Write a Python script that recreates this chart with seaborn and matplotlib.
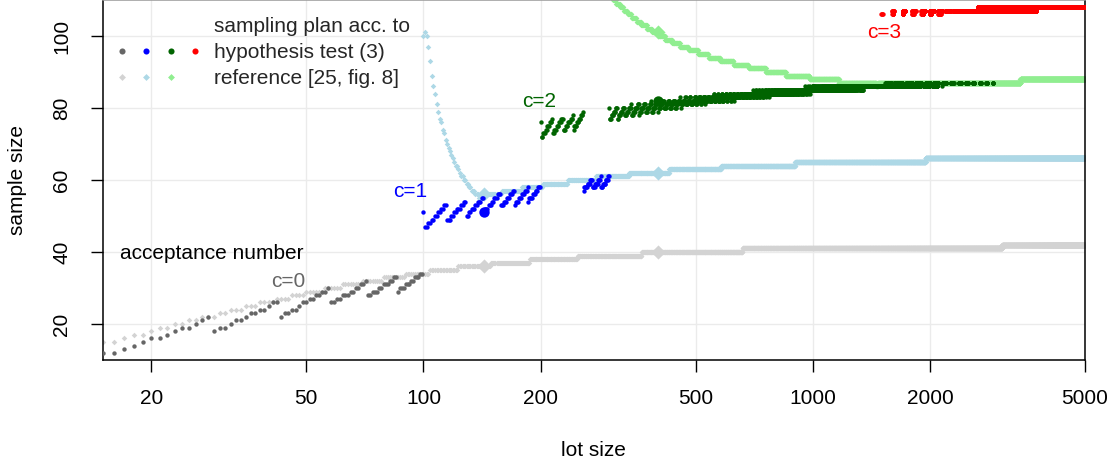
import matplotlib
matplotlib.use("Agg")
import matplotlib.pyplot as plt
import seaborn as sns
from matplotlib.lines import Line2D
from matplotlib.legend_handler import HandlerTuple

# ---------------- data (lot size N -> sample size n) ----------------
# Runs of constant sample size: a run starts at the given lot size and lasts
# until the next start - 1 (the last one until *_last). None = no plan shown.

# sampling plan acc. to hypothesis test (3), acceptance number c = 0
d0_start = [15, 17, 18, 19, 20, 22, 23, 24, 26, 27, 28, 29, 30, 32, 33, 35, 36, 38, 40, 41,
            43, 44, 46, 48, 49, 51, 53, 55, 57, 58, 60, 62, 65, 67, 69, 71, 72, 74, 77, 79,
            82, 84, 86, 87, 90, 93, 95, 98]
d0_n = [12, 13, 14, 15, 16, 17, 18, 19, 20, 21, 22, 18, 19, 20, 21, 22, 23, 24, 25, 26,
        22, 23, 24, 25, 26, 27, 28, 29, 30, 26, 27, 28, 29, 30, 31, 32, 28, 29, 30, 31,
        32, 33, 29, 30, 31, 32, 33, 34]
d0_last = 99

# c = 1
d1_start = [100, 101, 103, 105, 107, 109, 111, 113, 115, 118, 120, 122, 125, 127, 129, 131,
            133, 136, 138, 141, 143, 144, 147, 150, 152, 155, 158, 161, 164, 167, 170, 172,
            173, 176, 179, 182, 185, 186, 187, 191, 194, 197, 200, 258, 259, 264, 268, 272,
            276, 281, 285, 286, 289, 294, 298]
d1_n = [51, 47, 48, 49, 50, 51, 52, 53, 49, 50, 51, 52, 53, 54, 50, 51,
        52, 53, 54, 55, 51, 52, 53, 54, 55, 56, 53, 54, 55, 56, 57, 53,
        54, 55, 56, 57, 58, 54, 55, 56, 57, 58, None, 57, 58, 59, 60, 58,
        59, 60, 61, 58, 59, 60, 61]
d1_last = 299

# c = 2 (small lot sizes)
d2_start = [200, 201, 203, 206, 208, 211, 214, 215, 217, 220, 223, 226, 229, 232, 235, 239,
            242, 243, 244, 248, 251, 254, 257]
d2_n = [76, 72, 73, 74, 75, 76, 77, 73, 74, 75, 76, 77, 74, 75, 76, 77,
        78, 74, 75, 76, 77, 78, 79]
d2_last = 257

# c = 2 (large lot sizes): (first lot size, last lot size, sample size)
d2_runs = [
    (300, 300, 80), (301, 303, 77), (304, 307, 78), (308, 311, 79), (312, 314, 80), (315, 316, 77),
    (317, 320, 78), (321, 324, 79), (325, 328, 80), (329, 332, 78), (333, 336, 79), (337, 341, 80),
    (342, 342, 81), (343, 345, 78), (346, 349, 79), (350, 354, 80), (355, 357, 81), (358, 358, 78),
    (359, 362, 79), (363, 367, 80), (368, 371, 81), (372, 375, 79), (376, 380, 80), (381, 384, 81),
    (385, 385, 82), (386, 388, 79), (389, 393, 80), (394, 397, 81), (398, 400, 82), (401, 401, 79),
    (402, 406, 80), (407, 411, 81), (412, 414, 82), (415, 419, 80), (420, 424, 81), (425, 428, 82),
    (429, 432, 80), (433, 437, 81), (438, 442, 82), (443, 445, 80), (446, 450, 81), (451, 456, 82),
    (457, 457, 83), (458, 458, 80), (459, 463, 81), (464, 469, 82), (470, 471, 83), (472, 476, 81),
    (477, 482, 82), (483, 485, 83), (486, 490, 81), (491, 496, 82), (497, 500, 83), (501, 503, 81),
    (504, 509, 82), (510, 514, 83), (515, 516, 81), (517, 522, 82), (523, 528, 83), (529, 529, 81),
    (530, 536, 82), (537, 542, 83), (543, 549, 82), (550, 555, 83), (556, 557, 84), (558, 562, 82),
    (563, 569, 83), (570, 571, 84), (572, 576, 82), (577, 582, 83), (583, 585, 84), (586, 589, 82),
    (590, 596, 83), (597, 600, 84), (601, 602, 82), (603, 609, 83), (610, 614, 84), (615, 616, 82),
    (617, 637, 83), (624, 628, 84), (629, 629, 82), (638, 642, 84), (643, 650, 83), (651, 657, 84),
    (658, 664, 83), (665, 671, 84), (672, 677, 83), (678, 712, 84), (686, 691, 83), (700, 700, 85),
    (701, 704, 83), (713, 714, 85), (715, 718, 83), (719, 726, 84), (727, 728, 85), (729, 731, 83),
    (732, 808, 84), (741, 742, 85), (743, 745, 83), (754, 757, 85), (758, 758, 83), (768, 771, 85),
    (772, 772, 83), (782, 785, 85), (795, 800, 85), (809, 814, 85), (815, 822, 84), (823, 842, 85),
    (829, 835, 84), (843, 849, 84), (850, 857, 85), (858, 877, 84), (864, 871, 85), (878, 1274, 85),
    (886, 890, 84), (901, 904, 84), (915, 918, 84), (929, 931, 84), (943, 945, 84), (957, 957, 86),
    (958, 959, 84), (971, 971, 86), (972, 972, 84), (985, 985, 86), (986, 986, 84), (998, 1002, 86),
    (1012, 1014, 86), (1026, 1028, 86), (1040, 1042, 86), (1054, 1057, 86), (1068, 1071, 86),
    (1081, 1085, 86), (1095, 1695, 86), (1286, 1288, 85), (1301, 1302, 85), (1315, 1316, 85),
    (1329, 1343, 85), (1528, 1528, 87), (1542, 1557, 87), (1570, 1585, 87), (1598, 1599, 87),
    (1626, 1642, 87), (1654, 1699, 87), (1715, 1793, 86), (1738, 1799, 87), (1816, 1891, 86),
    (1838, 1899, 87), (1929, 1989, 86), (1948, 1999, 87), (2029, 2087, 86), (2049, 2099, 87),
    (2143, 2143, 86), (2155, 2199, 87), (2261, 2299, 87), (2367, 2399, 87), (2472, 2499, 87),
    (2578, 2599, 87), (2684, 2699, 87), (2790, 2799, 87), (2895, 2899, 87)]

# c = 3
d3_runs = [
    (1500, 1502, 106), (1514, 1514, 106), (1600, 1614, 107), (1601, 1606, 106), (1700, 1728, 107),
    (1701, 1709, 106), (1800, 1837, 107), (1801, 1815, 106), (1900, 1942, 107), (1901, 1919, 106),
    (2000, 2048, 107), (2001, 2017, 106), (2100, 2154, 107), (2101, 2129, 106), (2200, 2260, 107),
    (2300, 2366, 107), (2400, 2471, 107), (2500, 2577, 107), (2600, 3686, 107), (2657, 2671, 108),
    (2700, 5000, 108), (3729, 3743, 107)]

# reference [25, fig. 8], c = 0, 1, 2
r0_start = [15, 17, 18, 20, 21, 23, 25, 27, 30, 32, 35, 38, 42, 46, 50, 56, 62, 70, 79, 90,
            104, 123, 149, 188, 249, 364, 660, 3064]
r0_n = [15, 16, 17, 18, 19, 20, 21, 22, 23, 24, 25, 26, 27, 28, 29, 30, 31, 32, 33, 34,
        35, 36, 37, 38, 39, 40, 41, 42]
r0_last = 5000

r1_start = [100, 101, 102, 103, 104, 105, 106, 107, 108, 109, 110, 111, 112, 113, 114, 115,
            116, 117, 118, 119, 120, 121, 123, 124, 125, 127, 129, 131, 133, 136, 139, 143,
            159, 179, 203, 235, 278, 338, 428, 582, 901, 1948]
r1_n = [100, 101, 100, 97, 93, 89, 86, 84, 81, 79, 77, 76, 74, 73, 71, 70,
        69, 68, 67, 66, 65, 64, 63, 62, 61, 60, 59, 58, 57, 56, 55, 56,
        57, 58, 59, 60, 61, 62, 63, 64, 65, 66]
r1_last = 5000

r2_start = [296, 301, 307, 313, 320, 327, 335, 343, 353, 363, 375, 387, 402, 418, 436, 456,
            480, 508, 540, 579, 626, 684, 757, 852, 981, 1166, 1454, 1470, 3413]
r2_n = [112, 111, 110, 109, 108, 107, 106, 105, 104, 103, 102, 101, 100, 99, 98, 97,
        96, 95, 94, 93, 92, 91, 90, 89, 88, 87, 86, 87, 88]
r2_last = 5000

# lot sizes highlighted with large markers
highlight_lots = [143, 400]

x_ticks = [20, 50, 100, 200, 500, 1000, 2000, 5000]
y_ticks = [20, 40, 60, 80, 100]
c_labels = ['c=0', 'c=1', 'c=2', 'c=3']
legend_labels = ['sampling plan acc. to', 'hypothesis test (3)', 'reference [25, fig. 8]']


def from_starts(starts, ns, last):
    xs, ys = [], []
    for i, (s, n) in enumerate(zip(starts, ns)):
        e = starts[i + 1] - 1 if i + 1 < len(starts) else last
        if n is None:
            continue
        xs.extend(range(s, e + 1))
        ys.extend([n] * (e - s + 1))
    return xs, ys


def from_runs(runs):
    xs, ys = [], []
    for lo, hi, n in runs:
        xs.extend(range(lo, hi + 1))
        ys.extend([n] * (hi - lo + 1))
    return xs, ys


def concat(*parts):
    xs, ys = [], []
    for px, py in parts:
        xs += px
        ys += py
    return xs, ys


dark_cols = ['#666666', '#0000FF', '#006400', '#FF0000']
light_cols = ['#D3D3D3', '#ADD8E6', '#90EE90']

dark = [from_starts(d0_start, d0_n, d0_last),
        from_starts(d1_start, d1_n, d1_last),
        concat(from_starts(d2_start, d2_n, d2_last), from_runs(d2_runs)),
        from_runs(d3_runs)]
light = [from_starts(r0_start, r0_n, r0_last),
         from_starts(r1_start, r1_n, r1_last),
         from_starts(r2_start, r2_n, r2_last)]

# ---------------- figure ----------------
sns.set_theme(style="white")
plt.rcParams['font.family'] = ['Liberation Sans', 'DejaVu Sans']
plt.rcParams['axes.unicode_minus'] = False

W, H = 1115, 465
fig = plt.figure(figsize=(W / 100, H / 100), dpi=100)
ax = fig.add_axes([102.7 / W, 1 - 360 / H, (1085 - 102.7) / W, 360 / H])
ax.set_xscale('log')
ax.set_xlim(15, 5000)
ax.set_ylim(10, 110)

for (xs, ys), col in zip(light, light_cols):
    sns.scatterplot(x=xs, y=ys, ax=ax, color=col, marker='D', s=8, linewidth=0,
                    legend=False, zorder=2)
for (xs, ys), col in zip(light, light_cols):
    hx = [x for x, y in zip(xs, ys) if x in highlight_lots]
    hy = [y for x, y in zip(xs, ys) if x in highlight_lots]
    if hx:
        sns.scatterplot(x=hx, y=hy, ax=ax, color=col, marker='D', s=52, linewidth=0,
                        legend=False, zorder=3)
for (xs, ys), col in zip(dark, dark_cols):
    sns.scatterplot(x=xs, y=ys, ax=ax, color=col, marker='o', s=10, linewidth=0,
                    legend=False, zorder=4)
for (xs, ys), col in zip(dark, dark_cols):
    hx = [x for x, y in zip(xs, ys) if x in highlight_lots]
    hy = [y for x, y in zip(xs, ys) if x in highlight_lots]
    if hx:
        sns.scatterplot(x=hx, y=hy, ax=ax, color=col, marker='o', s=56, linewidth=0,
                        legend=False, zorder=5)

# annotations
ax.text(16.6, 39.6, 'acceptance number', ha='left', va='center', fontsize=15, color='black')
label_pos = [(44.9, 31.8), (92.6, 56.8), (198.7, 81.8), (1522, 101.0)]
for lab, (lx, ly), col in zip(c_labels, label_pos, dark_cols):
    ax.text(lx, ly, lab, ha='center', va='center', fontsize=15, color=col)

# legend
blank = Line2D([], [], linestyle='none', marker='')
dots = tuple(Line2D([], [], linestyle='none', marker='o', markersize=4.4,
                    markerfacecolor=c, markeredgewidth=0) for c in dark_cols)
dias = tuple(Line2D([], [], linestyle='none', marker='D', markersize=3.5,
                    markerfacecolor=c, markeredgewidth=0) for c in light_cols)
ax.legend([blank, dots, dias], legend_labels,
          handler_map={tuple: HandlerTuple(ndivide=4, pad=0)},
          loc='upper left', bbox_to_anchor=(0, 1 - 10.5 / 360), borderaxespad=0,
          borderpad=0.32, frameon=False, handlelength=4.7, handletextpad=0.33,
          labelspacing=0.33, fontsize=15)

# axes styling
ax.set_xticks(x_ticks)
ax.set_xticklabels([str(t) for t in x_ticks])
ax.set_yticks(y_ticks)
ax.set_yticklabels([str(t) for t in y_ticks])
ax.minorticks_off()
ax.tick_params(axis='both', which='major', direction='out', length=8.6, width=1.0,
               color='black', labelsize=15, labelcolor='black', bottom=True, left=True)
ax.tick_params(axis='x', pad=12.5)
ax.tick_params(axis='y', pad=14)
for lab in ax.get_yticklabels():
    lab.set_rotation(90)
    lab.set_va('center')
ax.grid(True, which='major', color='#EBEBEB', linewidth=1.0)
ax.set_axisbelow(True)
for side in ['left', 'bottom', 'right', 'top']:
    ax.spines[side].set_visible(True)
    ax.spines[side].set_color('black')
    ax.spines[side].set_linewidth(1.1)
ax.spines['top'].set_color('#999999')

ax.set_xlabel('lot size', fontsize=15, color='black')
ax.set_ylabel('sample size', fontsize=15, color='black')
ax.xaxis.set_label_coords(0.5, -(450 - 360) / 360)
ax.xaxis.label.set_va('center')
ax.yaxis.set_label_coords((18 - 102.7) / (1085 - 102.7), 0.5)
ax.yaxis.label.set_va('center')

fig.savefig('out.png', dpi=100)
